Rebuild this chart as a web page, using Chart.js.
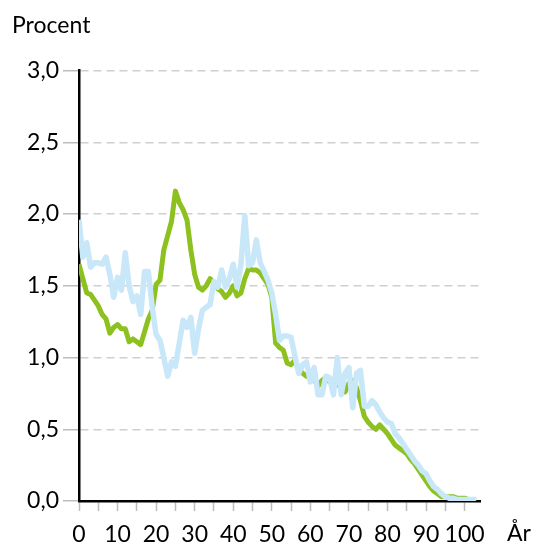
<!DOCTYPE html>
<html>
<head>
<meta charset="utf-8">
<script src="https://cdn.jsdelivr.net/npm/chart.js@4"></script>
<style>
  body { margin: 0; background: #fff; }
  #wrap { width: 537px; height: 547px; }
</style>
</head>
<body>
<div id="wrap"><canvas id="ageChart" width="537" height="547"></canvas></div>
<script>
// Ålder 0..103 år
const ages = [];
for (let a = 0; a <= 103; a++) ages.push(a);

// Grön serie (procent)
const greenValues = [
    1.65, 1.55, 1.45, 1.44, 1.40, 1.36, 1.30, 1.27, 1.17, 1.21,
    1.23, 1.20, 1.20, 1.11, 1.13, 1.11, 1.09, 1.18, 1.27, 1.33,
    1.51, 1.54, 1.75, 1.85, 1.95, 2.16, 2.08, 2.03, 1.96, 1.75,
    1.58, 1.49, 1.47, 1.50, 1.55, 1.52, 1.48, 1.46, 1.42, 1.45,
    1.50, 1.43, 1.45, 1.55, 1.62, 1.61, 1.61, 1.59, 1.55, 1.51,
    1.42, 1.10, 1.07, 1.05, 0.96, 0.95, 0.98, 0.92, 0.89, 0.87,
    0.89, 0.85, 0.80, 0.84, 0.86, 0.83, 0.82, 0.81, 0.80, 0.76,
    0.82, 0.84, 0.79, 0.70, 0.59, 0.55, 0.52, 0.50, 0.53, 0.50,
    0.47, 0.43, 0.39, 0.37, 0.35, 0.33, 0.29, 0.26, 0.22, 0.18,
    0.14, 0.10, 0.07, 0.05, 0.03, 0.03, 0.03, 0.03, 0.02, 0.02,
    0.02, 0.01, 0.01, 0.01
];

// Ljusblå serie (procent)
const blueValues = [
    1.96, 1.70, 1.80, 1.63, 1.66, 1.66, 1.65, 1.70, 1.58, 1.42,
    1.56, 1.47, 1.73, 1.50, 1.39, 1.43, 1.30, 1.60, 1.60, 1.35,
    1.16, 1.12, 1.00, 0.87, 0.97, 0.94, 1.10, 1.26, 1.21, 1.28,
    1.03, 1.20, 1.33, 1.35, 1.37, 1.53, 1.49, 1.61, 1.49, 1.55,
    1.65, 1.49, 1.65, 1.99, 1.64, 1.66, 1.82, 1.66, 1.60, 1.54,
    1.45, 1.30, 1.12, 1.15, 1.15, 1.14, 1.01, 0.89, 0.95, 0.97,
    0.83, 0.93, 0.74, 0.74, 0.87, 0.86, 0.74, 1.00, 0.74, 0.89,
    0.93, 0.65, 0.89, 0.91, 0.66, 0.66, 0.70, 0.67, 0.62, 0.58,
    0.55, 0.54, 0.47, 0.44, 0.40, 0.36, 0.32, 0.28, 0.25, 0.21,
    0.19, 0.14, 0.10, 0.08, 0.05, 0.03, 0.02, 0.02, 0.01, 0.01,
    0.01, 0.01, 0.01, 0.01
];

const xTickValues = [0, 5, 10, 15, 20, 25, 30, 35, 40, 45, 50, 55, 60, 65, 70, 75, 80, 85, 90, 95, 100];
const yTickValues = [0, 0.5, 1.0, 1.5, 2.0, 2.5, 3.0];

const FONT = "Lato, 'Open Sans', sans-serif";
const FONT_SIZE = 23;

// Text "År" till höger om x-axelns etiketter
const unitLabel = {
    id: "unitLabel",
    afterDraw(chart) {
        const c = chart.ctx;
        c.save();
        c.font = FONT_SIZE + "px " + FONT;
        c.fillStyle = "#000";
        c.textBaseline = "middle";
        c.textAlign = "left";
        c.fillText("År", 507, 534);
        c.restore();
    },
};

const ctx = document.getElementById("ageChart").getContext("2d");

new Chart(ctx, {
    type: "line",
    data: {
        datasets: [
            {
                label: "Ljusblå",
                data: ages.map((a, i) => ({ x: a, y: blueValues[i] })),
                borderColor: "#c8e7f9",
                borderWidth: 5.5,
                borderJoinStyle: "round",
                pointRadius: 0,
                tension: 0,
                order: 0,
            },
            {
                label: "Grön",
                data: ages.map((a, i) => ({ x: a, y: greenValues[i] })),
                borderColor: "#8cc11f",
                borderWidth: 5,
                borderJoinStyle: "round",
                pointRadius: 0,
                tension: 0,
                order: 1,
            },
        ],
    },
    options: {
        responsive: false,
        animation: false,
        layout: {
            padding: { left: 12, right: 57, top: 12, bottom: 0 },
        },
        plugins: {
            legend: { display: false },
            tooltip: { enabled: false },
            title: {
                display: true,
                text: "Procent",
                align: "start",
                color: "#000",
                font: { family: FONT, size: FONT_SIZE, weight: "normal" },
                padding: { top: 0, bottom: 31 },
            },
        },
        scales: {
            x: {
                type: "linear",
                min: 0,
                max: 104,
                afterBuildTicks: (axis) => {
                    axis.ticks = xTickValues.map((v) => ({ value: v }));
                },
                afterFit: (axis) => {
                    axis.height = 46;
                },
                ticks: {
                    autoSkip: false,
                    maxRotation: 0,
                    color: "#000",
                    padding: 10,
                    font: { family: FONT, size: FONT_SIZE },
                    callback: (v) => (v % 10 === 0 ? String(v) : ""),
                },
                grid: {
                    drawOnChartArea: false,
                    tickLength: 10,
                    tickColor: "#bdbdbd",
                    tickWidth: 1.5,
                },
                border: { color: "#000", width: 2.5 },
            },
            y: {
                min: 0,
                max: 3,
                afterBuildTicks: (axis) => {
                    axis.ticks = yTickValues.map((v) => ({ value: v }));
                },
                afterFit: (axis) => {
                    axis.width = 67;
                },
                ticks: {
                    color: "#000",
                    padding: 4,
                    font: { family: FONT, size: FONT_SIZE },
                    callback: (v) => v.toFixed(1).replace(".", ","),
                },
                grid: {
                    color: "#cfcfcf",
                    lineWidth: 1.5,
                    tickLength: 16,
                    tickColor: "#bdbdbd",
                    tickWidth: 1.5,
                },
                border: { color: "#000", width: 2.5, dash: [8, 5] },
            },
        },
    },
    plugins: [unitLabel],
});
</script>
</body>
</html>
